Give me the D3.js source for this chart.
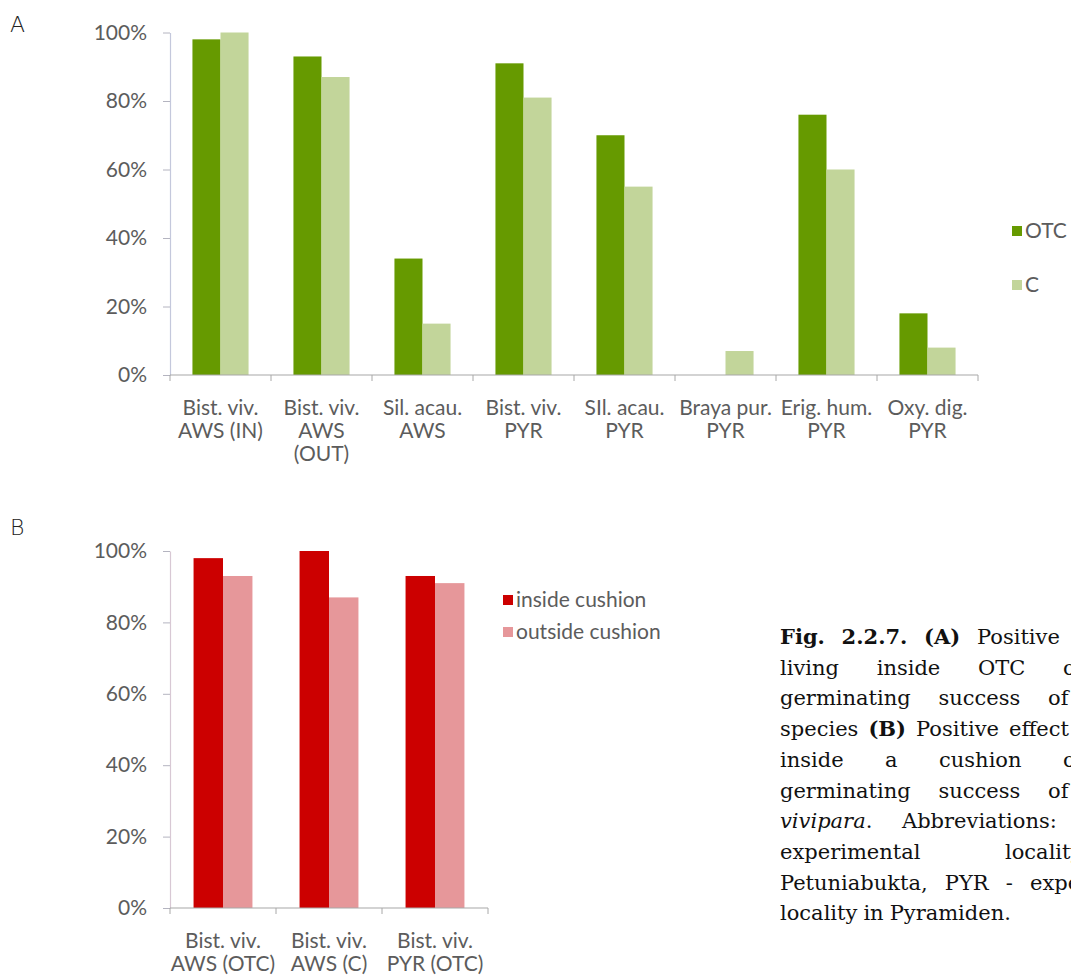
<!DOCTYPE html>
<html><head><meta charset="utf-8">
<script src="https://cdn.jsdelivr.net/npm/d3@7"></script>
<style>
html,body{margin:0;padding:0;background:#fff;overflow:hidden}
svg{display:block}
</style></head><body>
<svg id="fig" width="1071" height="979"></svg>
<script>
// Panel A: germination success per species / locality, OTC vs control
const catsA = [["Bist. viv.","AWS (IN)"],["Bist. viv.","AWS","(OUT)"],["Sil. acau.","AWS"],["Bist. viv.","PYR"],["SIl. acau.","PYR"],["Braya pur.","PYR"],["Erig. hum.","PYR"],["Oxy. dig.","PYR"]];
const seriesA = ["OTC","C"];
const otcA = [0.98,0.93,0.34,0.91,0.70,0.00,0.76,0.18];
const ctrlA = [1.00,0.87,0.15,0.81,0.55,0.07,0.60,0.08];
const colorsA = ["#669a00","#c2d59a"];

// Panel B: Bistorta vivipara inside vs outside cushion
const catsB = [["Bist. viv.","AWS (OTC)"],["Bist. viv.","AWS (C)"],["Bist. viv.","PYR (OTC)"]];
const seriesB = ["inside cushion","outside cushion"];
const insideB = [0.98,1.00,0.93];
const outsideB = [0.93,0.87,0.91];
const colorsB = ["#cc0000","#e6979a"];

const yTicks = [0,0.2,0.4,0.6,0.8,1];

const LABEL_FONT = "Lato, 'Open Sans', sans-serif";
const svg = d3.select("#fig");

function drawPanel(o) {
  const g = svg.append("g");
  const keys = o.cats.map((c, i) => i);
  const x = d3.scaleBand().domain(keys).range(o.xr);
  // Excel-style clustered bars: gap width 160% of a bar
  const xs = d3.scaleBand().domain(o.series).range([0, x.bandwidth()]).paddingInner(0).paddingOuter(0.8);
  const y = d3.scaleLinear().domain([0, 1]).range(o.yr);

  // bars
  o.series.forEach((s, si) => {
    g.append("g").selectAll("rect").data(o.values[si]).join("rect")
      .attr("x", (d, i) => x(i) + xs(s))
      .attr("width", xs.bandwidth())
      .attr("y", d => y(d))
      .attr("height", d => y(0) - y(d))
      .attr("fill", o.colors[si]);
  });

  // value axis
  const ya = g.append("g").attr("transform", `translate(${o.xr[0]},0)`)
    .call(d3.axisLeft(y).tickValues(yTicks).tickFormat(d3.format(".0%"))
      .tickSizeInner(7).tickSizeOuter(0).tickPadding(16));
  ya.select(".domain").attr("stroke", o.yAxisColor).attr("stroke-width", 1.2);
  ya.selectAll(".tick line").attr("stroke", "#b4b4c0");
  ya.selectAll(".tick text").attr("fill", "#5c5c5c")
    .style("font-family", LABEL_FONT).style("font-size", "21px");

  // category axis: baseline with ticks between categories
  const xa = g.append("g");
  xa.append("line").attr("x1", o.xr[0]).attr("x2", o.xr[1])
    .attr("y1", y(0)).attr("y2", y(0)).attr("stroke", "#a8a8a8").attr("stroke-width", 1.2);
  const bounds = keys.map(k => x(k)).concat([o.xr[1]]);
  xa.selectAll("line.tk").data(bounds).join("line").attr("class", "tk")
    .attr("x1", d => d).attr("x2", d => d)
    .attr("y1", y(0)).attr("y2", y(0) + 6).attr("stroke", "#a8a8a8");
  const lab = xa.selectAll("text").data(o.cats).join("text")
    .attr("x", (d, i) => x(i) + x.bandwidth() / 2)
    .attr("y", y(0) + 40)
    .attr("text-anchor", "middle").attr("fill", "#5c5c5c")
    .style("font-family", LABEL_FONT).style("font-size", "21px");
  lab.selectAll("tspan").data(d => d).join("tspan")
    .attr("x", function () { return d3.select(this.parentNode).attr("x"); })
    .attr("dy", (d, i) => i === 0 ? 0 : 23)
    .text(d => d);

  // legend
  const lg = g.append("g");
  o.series.forEach((s, si) => {
    const ly = o.legendY[si];
    lg.append("rect").attr("x", o.legendX).attr("y", ly - 5).attr("width", 10).attr("height", 10)
      .attr("fill", o.colors[si]);
    lg.append("text").attr("x", o.legendX + 13).attr("y", ly).attr("dy", "0.35em")
      .attr("fill", "#5c5c5c").style("font-family", LABEL_FONT).style("font-size", "21px")
      .text(s);
  });

  // panel letter
  g.append("text").attr("x", 10).attr("y", o.letterY).attr("fill", "#222")
    .style("font-family", "'DejaVu Sans', sans-serif").style("font-size", "22px")
    .style("font-weight", "300").text(o.letter);
}

drawPanel({
  cats: catsA, series: seriesA, values: [otcA, ctrlA], colors: colorsA,
  xr: [170, 978], yr: [375, 32.5], yAxisColor: "#c4c8dc",
  legendX: 1012, legendY: [231, 285], letter: "A", letterY: 32
});

drawPanel({
  cats: catsB, series: seriesB, values: [insideB, outsideB], colors: colorsB,
  xr: [170, 488], yr: [908, 551], yAxisColor: "#d8c8d4",
  legendX: 503, legendY: [600, 632], letter: "B", letterY: 535
});

// Figure caption, justified column; each word is a list of [text, style] runs
const capLines = [
  { words: [[["Fig.", "b"]], [["2.2.7.", "b"]], [["(A)", "b"]], [["Positive"]], [["effect"]], [["of"]]], anchor: [3, 977] },
  { words: [[["living"]], [["inside"]], [["OTC"]], [["on"]]], anchor: [3, 1063] },
  { words: [[["germinating"]], [["success"]], [["of"]], [["studied"]]], anchor: [2, 1048] },
  { words: [[["species"]], [["(B)", "b"]], [["Positive"]], [["effect"]], [["of"]]], anchor: [3, 1009] },
  { words: [[["inside"]], [["a"]], [["cushion"]], [["on"]]], anchor: [3, 1063] },
  { words: [[["germinating"]], [["success"]], [["of"]], [["Bistorta", "i"]]], anchor: [2, 1048] },
  { words: [[["vivipara", "i"], ["."]], [["Abbreviations:"]], [["AWS"]], [["-"]]], anchor: [1, 902] },
  { words: [[["experimental"]], [["locality"]], [["in"]]], anchor: [1, 1005] },
  { words: [[["Petuniabukta,"]], [["PYR"]], [["-"]], [["experimental"]]], anchor: [3, 1030] },
  { words: [[["locality"]], [["in"]], [["Pyramiden."]]], anchor: null }
];
const capX = 780, capY0 = 644, capLH = 30.7;
const capG = svg.append("g").style("font-family", "'DejaVu Serif', serif").style("font-size", "21px").attr("fill", "#111");

function writeWord(parent, runs) {
  const t = parent.append("text");
  runs.forEach(([s, st]) => {
    t.append("tspan").text(s)
      .style("font-weight", st === "b" ? "bold" : "normal")
      .style("font-style", st === "i" ? "italic" : "normal");
  });
  return t;
}
capLines.forEach((ln, li) => {
  const yy = capY0 + li * capLH;
  const widths = ln.words.map(runs => {
    const t = writeWord(capG, runs);
    const wd = t.node().getComputedTextLength(); t.remove(); return wd;
  });
  let gap = 6;
  if (ln.anchor) {
    const [k, ax] = ln.anchor;
    gap = (ax - capX - d3.sum(widths.slice(0, k))) / k;
  }
  let xx = capX;
  ln.words.forEach((runs, wi) => {
    writeWord(capG, runs).attr("x", xx).attr("y", yy);
    xx += widths[wi] + gap;
  });
});
</script>
</body></html>
